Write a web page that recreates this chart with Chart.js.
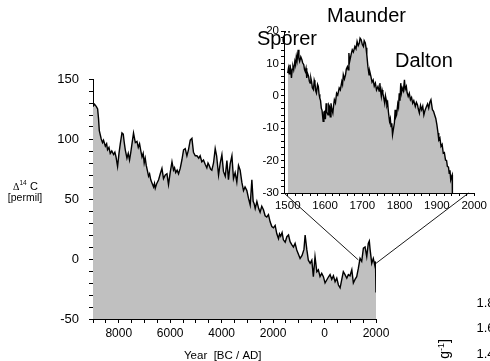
<!DOCTYPE html>
<html><head><meta charset="utf-8">
<script src="https://cdn.jsdelivr.net/npm/chart.js@4.4.1/dist/chart.umd.min.js"></script>
<style>
html,body{margin:0;padding:0;background:#fff;width:490px;height:361px;overflow:hidden}
#wrap{position:relative;width:490px;height:361px}
canvas{position:absolute;left:0;top:0}
</style></head><body>
<div id="wrap"><canvas id="main" width="490" height="361"></canvas><canvas id="inset" width="490" height="361"></canvas></div>
<script>
// ---- main series: Δ14C, 9000 BC - 2000 AD (negative = BC)
const mainYears = [-9000,-8940,-8870,-8820,-8785,-8755,-8680,-8630,-8590,-8520,-8470,-8435,-8380,-8330,-8270,-8200,-8150,-8105,-8045,-7990,-7940,-7875,-7825,-7785,-7745,-7680,-7630,-7580,-7530,-7485,-7425,-7355,-7290,-7240,-7190,-7140,-7095,-7050,-7010,-6970,-6930,-6890,-6840,-6800,-6755,-6700,-6645,-6610,-6580,-6520,-6450,-6385,-6320,-6260,-6190,-6125,-6065,-6000,-5930,-5870,-5830,-5785,-5730,-5675,-5610,-5545,-5480,-5415,-5350,-5290,-5220,-5155,-5095,-5025,-4960,-4890,-4835,-4770,-4705,-4640,-4575,-4530,-4485,-4430,-4380,-4315,-4250,-4195,-4120,-4055,-3990,-3930,-3860,-3795,-3735,-3670,-3600,-3540,-3475,-3410,-3345,-3280,-3215,-3150,-3090,-3020,-2955,-2890,-2825,-2775,-2735,-2695,-2630,-2560,-2505,-2440,-2375,-2310,-2245,-2180,-2115,-2050,-1985,-1920,-1855,-1790,-1750,-1705,-1650,-1600,-1530,-1465,-1400,-1340,-1275,-1210,-1145,-1080,-1015,-950,-875,-800,-755,-690,-630,-560,-495,-435,-370,-300,-240,-175,-110,-45,20,85,150,215,280,345,410,475,540,605,670,730,795,865,925,990,1060,1120,1185,1250,1315,1380,1445,1510,1575,1640,1700,1740,1770,1835,1895,1960,1980,2000];
const mainD14C = [127,129,127,125,117,107,100,97,99,94,96,91,93,88,90,87,89,85,77,88,96,105,104,97,91,84,88,82.5,89,96,105,97,98,93,96,90,85,88,80,84,78,74,69,71,66,63,60,63,59,63,66,71,75.5,67,70,71,62,72,81,74,76,72,74,71,75.5,82.5,91,92,86,91,99,100.5,89,86,86,84,86,81,82.5,79,76,80,78,75,74,80,92,86,70,80,87,73,69,82,66,79,86,67,72,64,78,74,64,57,60,57,50.5,45,66,48,46,42,48,42,39,44,41,36,35,37,31,27,26,28,21,17,21,19,22,16,14,18.6,20,14.4,12,10,13,7.5,4,0.5,3,8,20,8,-1,-3.6,-1,-14.7,2,-10.6,-9,-14.7,-12,-14.7,-20,-17.5,-15,-13,-17,-14,-19,-16,-21.7,-24,-17,-10.6,-13,-16,-13,-14,-9,-20,-17,-14.7,-7.7,0.5,-2,9,10,2,13,15,8,-3.6,0.5,-6,-2,-28];

// ---- inset series: Δ14C, 1500 - 1950 AD
const insetYears = [1500,1502,1504,1506,1508,1510,1512,1514,1516,1519,1521,1523,1525,1528,1530,1532,1535,1538,1540,1543,1545,1547,1549,1551,1553,1556,1558,1560,1562,1564,1566,1569,1571,1573,1575,1577,1580,1582,1584,1586,1588,1590,1592,1595,1597,1599,1601,1603,1605,1608,1610,1612,1614,1616,1618,1621,1623,1625,1628,1631,1634,1638,1641,1645,1647,1649,1652,1655,1657,1660,1662,1664,1666,1668,1670,1673,1676,1680,1683,1686,1689,1692,1694,1697,1700,1703,1705,1708,1710,1712,1715,1718,1720,1723,1726,1729,1732,1735,1738,1742,1745,1747,1749,1751,1753,1755,1758,1760,1762,1764,1766,1768,1770,1773,1775,1777,1779,1781,1783,1786,1788,1790,1792,1795,1797,1799,1801,1803,1805,1807,1810,1813,1815,1818,1820,1823,1826,1829,1832,1835,1838,1842,1845,1848,1850,1853,1856,1859,1862,1865,1868,1872,1875,1878,1881,1884,1886,1888,1891,1894,1897,1900,1903,1905,1908,1911,1914,1917,1920,1923,1926,1928,1931,1933,1935,1937,1939,1941,1941.5];
const insetD14C = [7,8.5,6.8,9.6,8,5.5,8.2,9,8,10.6,9.5,12.1,10.8,14.2,11.5,10.6,12,11.1,10.2,9.6,8.1,7.5,8.5,5.5,7,6,4.5,3.9,5.5,4.4,2.5,1.9,4.8,3.9,1.5,0.8,3.5,2.9,0.5,-0.7,-1.5,-3.8,-4.5,-7.9,-5,-4.8,-7.2,-2.3,-5,-5.9,-2.8,-3.3,-6.5,-2.3,-4,-5.3,-3,-1.2,-2.2,0.8,0.2,2.4,1.8,4.4,3.5,6.5,5.2,6.5,8.2,9,8,13.2,10.5,11.6,12.8,14.2,13.5,15.2,14.5,16.8,15.5,16.3,17.8,17.3,15.8,15.2,17,16.3,14.8,12.7,9,6.5,7.5,6,4.2,4.9,3,3.9,1.8,2.9,1.5,3.9,1.5,-0.2,1.8,0.8,-1,-2.3,0,-1.2,-3,-2.3,-5,-7.9,-7,-9.5,-8.5,-12,-10.5,-8.4,-4.3,-6.5,-5.9,-2.5,-3.5,0.8,-1.5,3.9,1,2.4,1.5,4.9,2,2.9,1,-0.2,0.8,-1.2,-0.5,-2.3,-1.5,-3.3,-2,-2.8,-4,-5.3,-3,-4.3,-3.2,-5.9,-4.5,-3.3,-2.5,-3.8,-2,-1.2,-2.8,-4.3,-4.8,-5.9,-7,-9,-11.5,-13.6,-13,-15.6,-15,-17.7,-17.5,-19.8,-20,-21.8,-22,-23.9,-23,-25.9,-25,-24.4,-30];

// ---- ticks
const mainXTicks = []; for (let v = -9000; v <= 2000; v += 500) mainXTicks.push(v);
const mainXLabels = [-8000,-6000,-4000,-2000,0,2000];
const mainYLabels = [-50,0,50,100,150];
const insetXTicks = []; for (let v = 1500; v <= 2000; v += 20) insetXTicks.push(v);
const insetXLabels = [1500,1600,1700,1800,1900,2000];
const insetYLabels = [-30,-20,-10,0,10,20];

// ---- annotations
const minimaLabels = ['Maunder','Spörer','Dalton'];
const fragmentLabels = ['1.8','1.6','1.4'];
const connectorMain = [[1315,-0.8],[2000,-3.6]];
const connectorInset = [[1490,-30],[1985,-30]];

const FONT = "'Liberation Sans', Arial, Helvetica, sans-serif";

function axisCommon(tickLen, pad, size){
  return {
    grid:{drawOnChartArea:false, drawTicks:true, tickLength:tickLen, tickColor:'#000', tickWidth:1},
    border:{display:true, color:'#000', width:1},
    ticks:{autoSkip:false, maxRotation:0, padding:pad, color:'#000', font:{family:FONT, size:size}}
  };
}

const mX = axisCommon(4, 3, 12), mY = axisCommon(4, 10, 13);
const mainChart = new Chart(document.getElementById('main'), {
  type:'line',
  data:{datasets:[{data: mainYears.map((x,i)=>({x:x, y:mainD14C[i]})), borderColor:'#000', borderWidth:1.4,
    backgroundColor:'#c0c0c0', fill:'start', pointRadius:0, tension:0}]},
  options:{
    responsive:false, animation:false, events:[],
    layout:{padding:{left:0, top:79, right:114, bottom:0}},
    plugins:{legend:{display:false}, tooltip:{enabled:false}},
    scales:{
      x:Object.assign({type:'linear', min:-9000, max:2000,
        afterFit:s=>{s.height=42;},
        afterBuildTicks:s=>{s.ticks = mainXTicks.map(v=>({value:v}));}}, mX,
        {ticks:Object.assign({}, mX.ticks, {callback:v=> mainXLabels.includes(v) ? String(Math.abs(v)) : ''})}),
      y:Object.assign({type:'linear', min:-50, max:150,
        afterFit:s=>{s.width=93;},
        afterBuildTicks:s=>{const t=[]; for(let v=-50; v<=150; v+=10) t.push({value:v}); s.ticks=t;}}, mY,
        {ticks:Object.assign({}, mY.ticks, {callback:v=> mainYLabels.includes(v) ? String(v) : ''})})
    }
  }
});

const textPlugin = {
  id:'texts',
  beforeDraw(chart){
    const ctx = chart.ctx, ms = mainChart.scales, is = chart.scales;
    ctx.save();
    ctx.strokeStyle = '#1a1a1a'; ctx.lineWidth = 1;
    for (let i = 0; i < connectorMain.length; i++){
      ctx.beginPath();
      ctx.moveTo(ms.x.getPixelForValue(connectorMain[i][0]), ms.y.getPixelForValue(connectorMain[i][1]));
      ctx.lineTo(is.x.getPixelForValue(connectorInset[i][0]), is.y.getPixelForValue(connectorInset[i][1]));
      ctx.stroke();
    }
    ctx.restore();
  },
  afterDraw(chart){
    const ctx = chart.ctx;
    ctx.save();
    ctx.fillStyle = '#000';
    ctx.textBaseline = 'alphabetic';
    ctx.textAlign = 'left';
    // minima names
    ctx.font = '20px ' + FONT;
    ctx.fillText(minimaLabels[0], 327, 22);
    ctx.fillText(minimaLabels[1], 257, 45);
    ctx.fillText(minimaLabels[2], 395, 67);
    // y-axis title
    ctx.font = '10px "Liberation Serif", "DejaVu Serif", serif';
    ctx.fillText('\u0394', 13, 190);
    ctx.font = '6.5px ' + FONT;
    ctx.fillText('14', 19.5, 184.5);
    ctx.font = '11px ' + FONT;
    ctx.fillText('C', 30, 190);
    ctx.font = '10.5px ' + FONT;
    ctx.textAlign = 'center';
    ctx.fillText('[permil]', 25, 201);
    // x-axis title
    ctx.textAlign = 'left';
    ctx.font = '11.5px ' + FONT;
    ctx.fillText('Year  [BC / AD]', 184, 359);
    // fragments of a neighbouring panel
    ctx.font = '13px ' + FONT;
    ctx.textBaseline = 'middle';
    ctx.fillText(fragmentLabels[0], 476.5, 303);
    ctx.fillText(fragmentLabels[1], 476.5, 328);
    ctx.fillText(fragmentLabels[2], 476.5, 354);
    // rotated unit label (cut off)
    ctx.textBaseline = 'alphabetic';
    ctx.translate(449, 339);
    ctx.rotate(-Math.PI/2);
    ctx.font = '14px ' + FONT;
    const p1 = '[atoms g', p3 = ']';
    const w1 = ctx.measureText(p1).width, w3 = ctx.measureText(p3).width;
    ctx.font = '9px ' + FONT;
    const p2 = '-1', w2 = ctx.measureText(p2).width;
    let x0 = -(w1 + w2 + w3);
    ctx.font = '14px ' + FONT; ctx.fillText(p1, x0, 0);
    ctx.font = '9px ' + FONT; ctx.fillText(p2, x0 + w1, -5);
    ctx.font = '14px ' + FONT; ctx.fillText(p3, x0 + w1 + w2, 0);
    ctx.restore();
  }
};

const iX = axisCommon(3, 3, 11.5), iY = axisCommon(3, 2, 11.5);
const insetChart = new Chart(document.getElementById('inset'), {
  type:'line',
  data:{datasets:[{data: insetYears.map((x,i)=>({x:x, y:insetD14C[i]})), borderColor:'#000', borderWidth:1.4,
    backgroundColor:'#c0c0c0', fill:'start', pointRadius:0, tension:0}]},
  options:{
    responsive:false, animation:false, events:[],
    layout:{padding:{left:0, top:31, right:11, bottom:148}},
    plugins:{legend:{display:false}, tooltip:{enabled:false}},
    scales:{
      x:Object.assign({type:'linear', min:1490, max:2000,
        afterFit:s=>{s.height=20;},
        afterBuildTicks:s=>{s.ticks = insetXTicks.map(v=>({value:v}));}}, iX,
        {ticks:Object.assign({}, iX.ticks, {callback:v=> insetXLabels.includes(v) ? String(v) : ''})}),
      y:Object.assign({type:'linear', min:-30, max:20,
        afterFit:s=>{s.width=284;},
        afterBuildTicks:s=>{const t=[]; for(let v=-30; v<=20; v+=2) t.push({value:v}); s.ticks=t;}}, iY,
        {ticks:Object.assign({}, iY.ticks, {callback:v=> insetYLabels.includes(v) ? String(v) : ''})})
    }
  },
  plugins:[textPlugin]
});
</script>
</body></html>
